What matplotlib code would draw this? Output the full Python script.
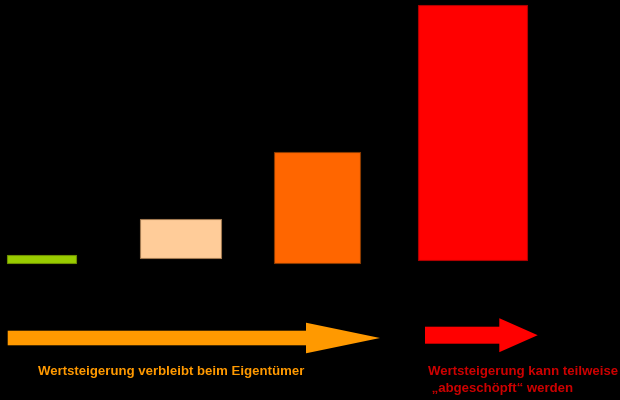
import matplotlib.pyplot as plt

# floating bars (value units, 1 unit ~ 1 px)
bar_x = [41.8, 180.5, 317.0, 472.7]
bar_w = [69.0, 80.4, 85.4, 108.7]
bar_bottom = [37.3, 41.7, 37.3, 40.3]
bar_height = [7.7, 39.3, 110.4, 254.4]
bar_colors = ["#99CC00", "#FFCC99", "#FF6600", "#FF0000"]
bar_edges = ["#6E8F00", "#A07850", "#8A3A00", "#B00000"]

# arrows: start x, end x, y, shaft width, head width, head length
arrow_x0 = [7.7, 425.0]
arrow_x1 = [380.0, 537.7]
arrow_y = [-38.0, -35.2]
arrow_shaft = [14.6, 17.0]
arrow_head_w = [30.6, 34.0]
arrow_head_l = [74.0, 38.4]
arrow_colors = ["#FF9900", "#FF0000"]

label_left = "Wertsteigerung verbleibt beim Eigentümer"
label_right = ["Wertsteigerung kann teilweise", " \u201eabgeschöpft\u201c werden"]


def main():
    plt.rcParams['font.family'] = ['Liberation Sans', 'DejaVu Sans']
    fig = plt.figure(figsize=(6.2, 4), dpi=100, facecolor="black")
    ax = fig.add_axes([0, 0, 1, 1])
    ax.set_facecolor("black")
    ax.set_xlim(0, 620)
    ax.set_ylim(-100, 300)
    ax.axis("off")

    ax.bar(bar_x, bar_height, width=bar_w, bottom=bar_bottom,
           color=bar_colors, edgecolor=bar_edges, linewidth=0.8)

    for i in range(len(arrow_x0)):
        ax.arrow(arrow_x0[i], arrow_y[i], arrow_x1[i] - arrow_x0[i], 0,
                 width=arrow_shaft[i], head_width=arrow_head_w[i],
                 head_length=arrow_head_l[i], length_includes_head=True,
                 color=arrow_colors[i], linewidth=0)

    ax.text(37.7, -72.3, label_left, color="#FF9900", fontsize=9.5,
            fontweight="bold", va="center", ha="left")
    ax.text(428.3, -72.3, label_right[0], color="#CC0000", fontsize=9.5,
            fontweight="bold", va="center", ha="left")
    ax.text(428.3, -89.3, label_right[1], color="#CC0000", fontsize=9.5,
            fontweight="bold", va="center", ha="left")

    fig.savefig("out.png", dpi=100, facecolor="black")


if __name__ == "__main__":
    main()
